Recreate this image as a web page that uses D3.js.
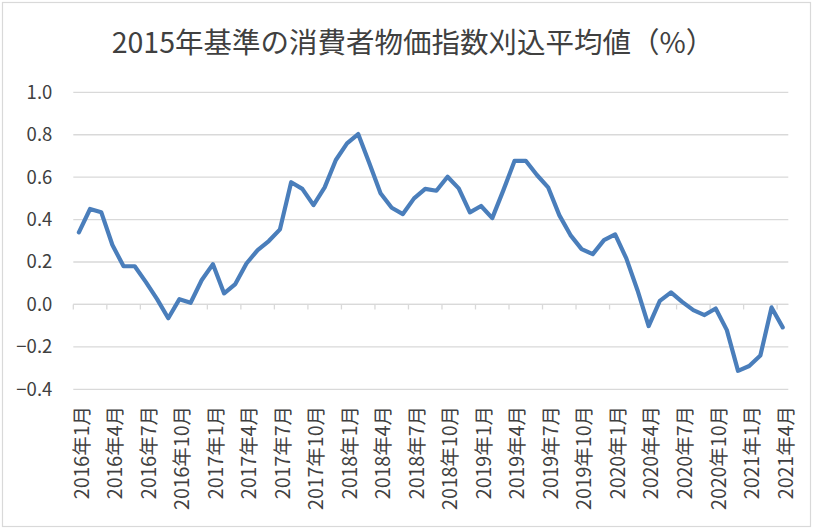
<!DOCTYPE html>
<html>
<head>
<meta charset="utf-8">
<script src="https://cdn.jsdelivr.net/npm/d3@7"></script>
<style>
  html, body { margin: 0; padding: 0; background: #fff; }
  svg { display: block; }
  text { font-family: "Noto Sans CJK JP", "Noto Sans", sans-serif; fill: #404040; }
</style>
</head>
<body>
<svg id="chart" width="813" height="529"></svg>
<script>
const title = "2015年基準の消費者物価指数刈込平均値（%）";

const years = [2016, 2017, 2018, 2019, 2020, 2021];
const months = [1,2,3,4,5,6,7,8,9,10,11,12];

const values = [
  0.34, 0.45, 0.435, 0.28, 0.18, 0.18, 0.105, 0.025, -0.065, 0.025, 0.008, 0.115,
  0.19, 0.052, 0.096, 0.193, 0.256, 0.299, 0.354, 0.576, 0.545, 0.468, 0.552, 0.681,
  0.759, 0.803, 0.665, 0.524, 0.456, 0.426, 0.50, 0.545, 0.536, 0.602, 0.547, 0.434,
  0.464, 0.407, 0.539, 0.677, 0.677, 0.61, 0.552, 0.421, 0.327, 0.261, 0.237, 0.303,
  0.33, 0.217, 0.067, -0.102, 0.017, 0.057, 0.012, -0.027, -0.05, -0.019, -0.121, -0.313,
  -0.29, -0.241, -0.014, -0.108
];

const yTicks = [-0.4, -0.2, 0.0, 0.2, 0.4, 0.6, 0.8, 1.0];

const categories = [];
for (const y of years) for (const m of months) {
  if (categories.length < values.length) categories.push(y + "年" + m + "月");
}

const W = 813, H = 529;
const margin = { left: 73.3, right: 813 - 788.3, top: 92.3, bottom: 529 - 389.3 };

const svg = d3.select("#chart");

// outer border
svg.append("rect")
  .attr("x", 2.5).attr("y", 2.5)
  .attr("width", W - 5).attr("height", H - 5)
  .attr("fill", "#fff").attr("stroke", "#d9d9d9").attr("stroke-width", 1.2);

const x = d3.scaleBand()
  .domain(categories)
  .range([margin.left, W - margin.right])
  .paddingInner(0).paddingOuter(0);

const y = d3.scaleLinear()
  .domain([-0.4, 1.0])
  .range([H - margin.bottom, margin.top]);

// gridlines
svg.append("g")
  .selectAll("line")
  .data(yTicks)
  .join("line")
  .attr("x1", margin.left).attr("x2", W - margin.right)
  .attr("y1", d => y(d)).attr("y2", d => y(d))
  .attr("stroke", "#d9d9d9").attr("stroke-width", 1.3);

// y axis labels
const yAxis = d3.axisLeft(y).tickValues(yTicks).tickFormat(d3.format(".1f")).tickSize(0).tickPadding(21);
const gy = svg.append("g").attr("transform", `translate(${margin.left},0)`).call(yAxis);
gy.select(".domain").remove();
gy.selectAll("text").attr("font-size", 18.5).attr("fill", "#404040")
  .style("font-family", '"Noto Sans CJK JP", "Noto Sans", sans-serif');

// x axis at y=0 with ticks at every 3rd category boundary
const boundaries = d3.range(0, categories.length + 1, 3).map(i =>
  i < categories.length ? x(categories[i]) : x(categories[categories.length - 1]) + x.bandwidth());
const gx = svg.append("g");
gx.append("line")
  .attr("x1", margin.left).attr("x2", W - margin.right)
  .attr("y1", y(0)).attr("y2", y(0))
  .attr("stroke", "#d9d9d9").attr("stroke-width", 1.3);
gx.selectAll("line.tick")
  .data(boundaries)
  .join("line").attr("class", "tick")
  .attr("x1", d => d).attr("x2", d => d)
  .attr("y1", y(0)).attr("y2", y(0) + 5)
  .attr("stroke", "#d9d9d9").attr("stroke-width", 1.3);

// x labels (every 3rd), rotated
const labelIdx = d3.range(0, categories.length, 3);
svg.append("g")
  .selectAll("text")
  .data(labelIdx)
  .join("text")
  .attr("transform", i => `translate(${x(categories[i]) + x.bandwidth() / 2 + 3},406) rotate(-90)`)
  .attr("text-anchor", "end")
  .attr("dy", "0.35em")
  .attr("font-size", 19.5)
  .text(i => categories[i]);

// line
const line = d3.line()
  .x((d, i) => x(categories[i]) + x.bandwidth() / 2)
  .y(d => y(d));

svg.append("path")
  .datum(values)
  .attr("d", line)
  .attr("fill", "none")
  .attr("stroke", "#4a7ebb")
  .attr("stroke-width", 4.2)
  .attr("stroke-linejoin", "round")
  .attr("stroke-linecap", "round");

// title
svg.append("text")
  .attr("x", 413).attr("y", 53)
  .attr("text-anchor", "middle")
  .attr("font-size", 28.5)
  .attr("fill", "#262626")
  .text(title);
</script>
</body>
</html>
